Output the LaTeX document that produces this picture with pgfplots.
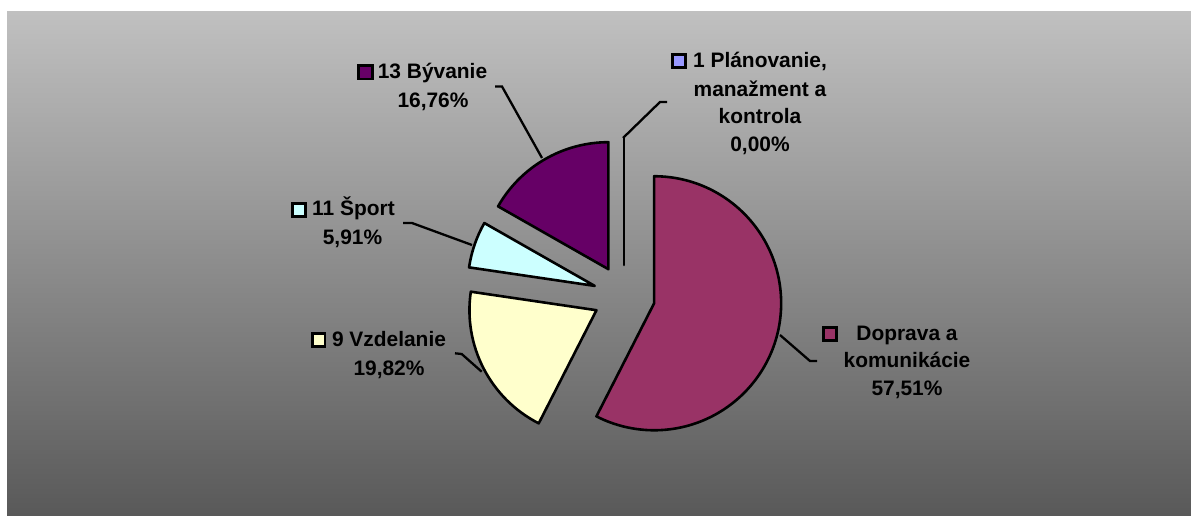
\documentclass[border=0pt]{standalone}
\usepackage{pgfplots}
\pgfplotsset{compat=1.18}
\usepackage{fontspec}
\setmainfont{Liberation Sans}

\definecolor{doprava}{HTML}{993366}
\definecolor{vzdelanie}{HTML}{FFFFCC}
\definecolor{sport}{HTML}{CCFFFF}
\definecolor{byvanie}{HTML}{660066}
\definecolor{planovanie}{HTML}{9999FF}
\definecolor{bgtop}{HTML}{C0C0C0}
\definecolor{bgbot}{HTML}{595959}

% pie: centre (624,296) in pixel units, radius 127, explode 31
\def\pieacc{0}
\newcommand\pieslice[2]{%
  \pgfmathsetmacro\aS{90-3.6*\pieacc}%
  \pgfmathsetmacro\aE{90-3.6*(\pieacc+#1)}%
  \pgfmathsetmacro\aM{(\aS+\aE)/2}%
  \pgfmathsetmacro\newacc{\pieacc+#1}\xdef\pieacc{\newacc}%
  \edef\temp{\noexpand\filldraw[fill=#2,draw=black,line width=2.6bp,line join=round]
    (axis cs:624,296) ++(\aM:31bp) -- ++(\aS:127bp)
    arc[start angle=\aS,end angle=\aE,radius=127bp] -- cycle;}%
  \temp}

\tikzset{lbl/.style={anchor=base,inner sep=0pt,font=\fontsize{21}{25}\selectfont\bfseries},
  key/.style={draw=black,line width=2.2bp},
  lead/.style={draw=black,line width=2.3bp}}

\begin{document}
\begin{tikzpicture}
\begin{axis}[
  width=1191bp, height=515bp, scale only axis,
  xmin=0, xmax=1191, ymin=0, ymax=515, y dir=reverse,
  hide axis, clip=false,
]
\fill[white] (axis cs:0,0) rectangle (axis cs:1191,515);
\shade[top color=bgtop,bottom color=bgbot] (axis cs:7,12) rectangle (axis cs:1191,515);

% shares in percent, clockwise from 12 o'clock
\pieslice{57.51}{doprava}
\pieslice{19.82}{vzdelanie}
\pieslice{5.91}{sport}
\pieslice{16.76}{byvanie}
\pieslice{0.00}{planovanie}

% leader lines
\draw[lead] (axis cs:495,86.5) -- (axis cs:502,86.5) -- (axis cs:542,158);
\draw[lead] (axis cs:667,102) -- (axis cs:660,102) -- (axis cs:623,138);
\draw[lead] (axis cs:403,223) -- (axis cs:412,223) -- (axis cs:472,245);
\draw[lead] (axis cs:455,353.3) -- (axis cs:461.7,354) -- (axis cs:481.7,371.7);
\draw[lead] (axis cs:780,335) -- (axis cs:810,361) -- (axis cs:817,361);

% legend keys
\filldraw[key,fill=byvanie] (axis cs:358.5,65.5) rectangle (axis cs:372.5,79);
\filldraw[key,fill=planovanie] (axis cs:672.5,54.5) rectangle (axis cs:685.5,67.5);
\filldraw[key,fill=sport] (axis cs:292.5,203.5) rectangle (axis cs:305.5,216.5);
\filldraw[key,fill=vzdelanie] (axis cs:312.5,333.5) rectangle (axis cs:325,346.5);
\filldraw[key,fill=doprava] (axis cs:823.5,327.5) rectangle (axis cs:836.5,340.5);

% labels
\node[lbl] at (axis cs:432.5,78.5) {13 Bývanie};
\node[lbl] at (axis cs:433,107) {16,76\%};
\node[lbl] at (axis cs:760,68) {1 Plánovanie,};
\node[lbl] at (axis cs:760,96) {manažment a};
\node[lbl] at (axis cs:760,123.5) {kontrola};
\node[lbl] at (axis cs:760,151) {0,00\%};
\node[lbl] at (axis cs:353.5,215.7) {11 Šport};
\node[lbl] at (axis cs:352.5,244) {5,91\%};
\node[lbl] at (axis cs:389,346.7) {9 Vzdelanie};
\node[lbl] at (axis cs:389,375) {19,82\%};
\node[lbl] at (axis cs:907,340) {Doprava a};
\node[lbl] at (axis cs:907,367.3) {komunikácie};
\node[lbl] at (axis cs:907,395.7) {57,51\%};
\end{axis}
\end{tikzpicture}
\end{document}
